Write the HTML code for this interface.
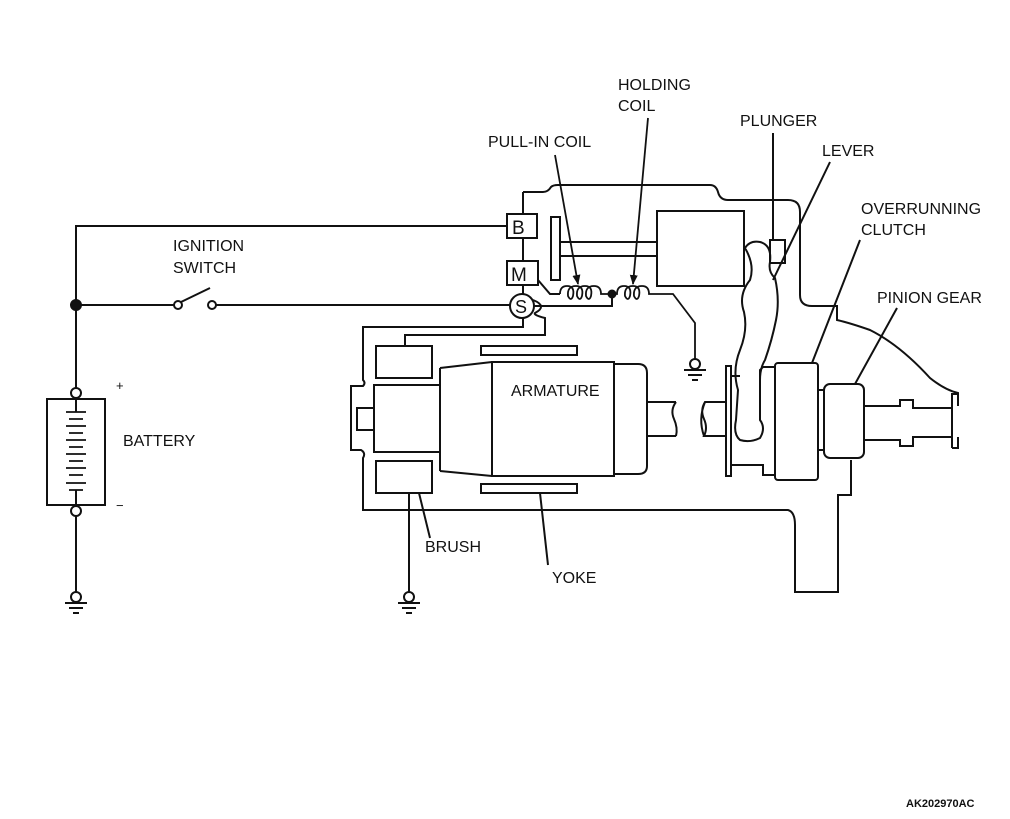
<!DOCTYPE html>
<html><head><style>
html,body{margin:0;padding:0;background:#fff;}
svg{display:block;}
text{font-family:"Liberation Sans",sans-serif;font-size:16px;fill:#111;}
</style></head><body>
<svg width="1010" height="819" viewBox="0 0 1010 819" xmlns="http://www.w3.org/2000/svg">
<defs><marker id="ar" markerWidth="10" markerHeight="10" refX="9" refY="5" orient="auto" markerUnits="userSpaceOnUse"><path d="M0,1 L10,5 L0,9 Z" fill="#111"/></marker></defs>
<g fill="none" stroke="#111" stroke-width="2">
<path d="M507,226 H76 V388"/>
<circle cx="76" cy="393" r="5" fill="#fff"/>
<rect x="47" y="399" width="58" height="106"/>
<path d="M76,398 V412 M76,490 V506"/>
<path d="M66,412 H86 M69,419 H83 M66,426 H86 M69,433 H83 M66,440 H86 M69,447 H83 M66,454 H86 M69,461 H83 M66,468 H86 M69,475 H83 M66,483 H86 M69,490 H83" stroke-width="1.8"/>
<circle cx="76" cy="511" r="5" fill="#fff"/>
<path d="M76,516 V592"/>
<circle cx="76" cy="597" r="5" fill="#fff"/>
<path d="M65,603 H87 M69,608 H83 M73,613 H79"/>
<circle cx="76" cy="305" r="5" fill="#111"/>
<path d="M76,305 H174 M216,305 H510"/>
<circle cx="178" cy="305" r="4" fill="#fff"/>
<circle cx="212" cy="305" r="4" fill="#fff"/>
<path d="M181,302 L210,288"/>
<rect x="507" y="214" width="30" height="24"/>
<rect x="507" y="261" width="31" height="24"/>
<path d="M523,192 V214 M523,238 V261 M523,285 V294"/>
<circle cx="522" cy="306" r="12" fill="#fff"/>
<path d="M523,192 H543 Q548,192 551,187 Q553,185 558,185 H710 Q716,185 718,192 Q720,200 728,200 H788 Q800,200 800,212 V295 Q800,306 812,306 H837 V320 Q850,323 870,330 Q900,345 930,378 Q945,390 958,393 V406"/>
<path d="M958,437 V448 L952,448"/>
<path d="M523,318 V327 H363 V380 Q366,383 363,386 H351 V450 H361 Q366,453 363,458 V510 H788 Q795,512 795,525 V592 H838 V495 H851 V460"/>
<path d="M533,300 Q548,306 535,313 Q533,315 545,318 V335 H405 V346"/>
<path d="M538,280 L550,294 H560"/>
<path d="M534,306 H612 V296"/>
<path d="M560,294 q0,-8 7,-8 q8,0 6,10 q-2,6 -5,0 q-1,-10 8,-10 q8,0 6,10 q-2,6 -5,0 q-1,-10 8,-10 q8,0 6,10 q-2,6 -5,0 q-1,-10 8,-10 q7,0 7,8 H612" stroke-width="1.8"/>
<circle cx="612" cy="294" r="3.5" fill="#111"/>
<path d="M612,294 H617 q0,-8 7,-8 q8,0 6,10 q-2,6 -5,0 q-1,-10 8,-10 q8,0 6,10 q-2,6 -5,0 q-1,-10 8,-10 q7,0 7,8 H673 L695,323 V360" stroke-width="1.8"/>
<circle cx="695" cy="364" r="5" fill="#fff"/>
<path d="M684,370 H706 M688,375 H702 M692,380 H698"/>
<rect x="657" y="211" width="87" height="75"/>
<path d="M657,242 H560 M657,256 H560"/>
<rect x="551" y="217" width="9" height="63"/>
<rect x="770" y="240" width="15" height="23"/>
<path d="M745,248 Q750,240 760,242 Q772,245 770,262 Q768,272 775,278 Q780,300 776,320 Q772,340 765,360 Q760,368 760,380 V420 Q766,428 760,438 Q750,443 740,440 Q733,434 736,420 L738,390 Q732,370 740,350 Q748,330 744,312 Q738,295 750,280 Q755,265 745,248 Z"/>
<rect x="376" y="346" width="56" height="32"/>
<rect x="376" y="461" width="56" height="32"/>
<rect x="374" y="385" width="66" height="67"/>
<rect x="357" y="408" width="17" height="22"/>
<path d="M440,368 L492,362 M440,471 L492,476 M440,368 V471"/>
<rect x="492" y="362" width="122" height="114"/>
<path d="M614,364 H638 Q647,364 647,373 V466 Q647,474 638,474 H614"/>
<path d="M647,402 H676 M647,436 H676 M676,402 Q670,410 674,419 Q678,428 676,436"/>
<rect x="481" y="346" width="96" height="9"/>
<rect x="481" y="484" width="96" height="9"/>
<path d="M409,493 V592 M419,493 L430,538 M540,493 L548,565"/>
<circle cx="409" cy="597" r="5" fill="#fff"/>
<path d="M398,603 H420 M402,608 H416 M406,613 H412"/>
<path d="M726,402 H705 Q700,410 704,419 Q708,428 704,436 H726 M705,402 Q698,419 704,436"/>
<rect x="726" y="366" width="5" height="110"/>
<path d="M731,376 H740 M731,465 H763 V475 H775 M763,367 H775 M760,380 V370 L763,367"/>
<rect x="775" y="363" width="43" height="117" rx="3"/>
<rect x="818" y="390" width="6" height="60"/>
<rect x="824" y="384" width="40" height="74" rx="6"/>
<path d="M864,406 H900 V400 H913 V408 H952 V437 H913 V446 H900 V440 H864"/>
<path d="M952,408 V394 H958 M952,437 V448"/>
<path d="M555,155 L578,284" marker-end="url(#ar)" stroke-width="1.8"/>
<path d="M648,118 L633,284" marker-end="url(#ar)" stroke-width="1.8"/>
<path d="M773,133 V240 M830,162 L773,280 M860,240 L812,363 M897,308 L855,384"/>
</g>
<text x="618" y="90">HOLDING</text>
<text x="618" y="111">COIL</text>
<text x="488" y="147">PULL-IN COIL</text>
<text x="740" y="126">PLUNGER</text>
<text x="822" y="156">LEVER</text>
<text x="861" y="214">OVERRUNNING</text>
<text x="861" y="235">CLUTCH</text>
<text x="877" y="303">PINION GEAR</text>
<text x="173" y="251">IGNITION</text>
<text x="173" y="273">SWITCH</text>
<text x="511" y="396">ARMATURE</text>
<text x="123" y="446">BATTERY</text>
<text x="425" y="552">BRUSH</text>
<text x="552" y="583">YOKE</text>
<text x="116" y="390" style="font-size:13px">+</text>
<text x="116" y="510" style="font-size:13px">−</text>
<text x="512" y="234" style="font-size:19px">B</text>
<text x="511" y="281" style="font-size:19px">M</text>
<text x="515" y="313" style="font-size:18px">S</text>
<text x="906" y="807" style="font-size:11px;font-weight:bold">AK202970AC</text>
</svg>
</body></html>
